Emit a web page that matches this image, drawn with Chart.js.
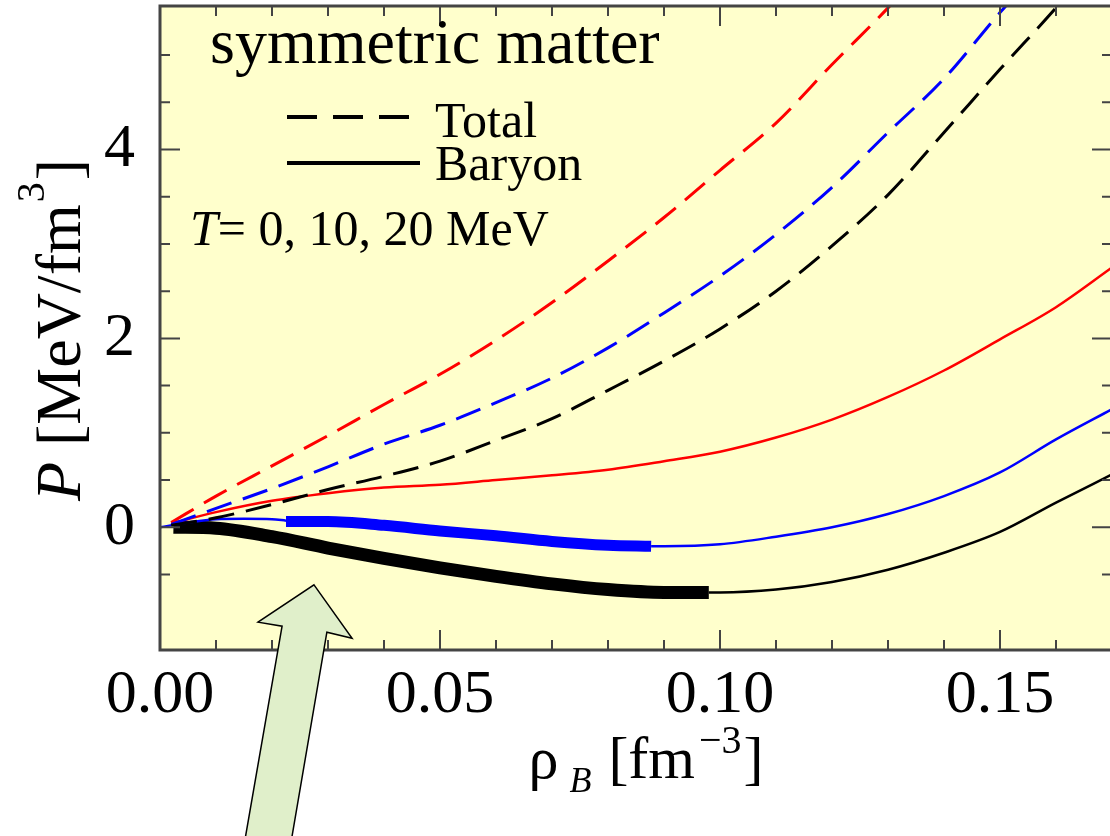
<!DOCTYPE html>
<html lang="en">
<head>
    <title>Symmetric matter pressure</title>
    <script src="https://cdn.jsdelivr.net/npm/chart.js"></script>
    <style>
        html, body { margin: 0; padding: 0; overflow: hidden; background: #fff; }
    </style>
</head>
<body>
    <canvas id="pChart" width="1114" height="836"></canvas>

    <script>
        // density grid (fm^-3)
        const rho = [0.002, 0.01, 0.02, 0.03, 0.04, 0.05, 0.06, 0.07, 0.08, 0.09,
                     0.10, 0.11, 0.12, 0.13, 0.14, 0.15, 0.16, 0.17];

        // total pressure (dashed), MeV/fm^3
        const totalT0  = [0.02, 0.10, 0.24, 0.40, 0.54, 0.70, 0.92, 1.15, 1.45, 1.76,
                          2.10, 2.50, 2.98, 3.52, 4.18, 4.85, 5.50, 6.20];
        const totalT10 = [0.03, 0.20, 0.41, 0.64, 0.88, 1.08, 1.32, 1.58, 1.90, 2.27,
                          2.66, 3.10, 3.60, 4.18, 4.75, 5.45, 6.10, null];
        const totalT20 = [0.05, 0.33, 0.65, 0.97, 1.30, 1.62, 1.98, 2.38, 2.82, 3.28,
                          3.78, 4.28, 4.90, 5.50, 6.15, null, null, null];

        // baryon pressure (solid)
        const baryonT20 = [0.04, 0.16, 0.28, 0.36, 0.42, 0.45, 0.50, 0.55, 0.61, 0.70,
                           0.80, 0.95, 1.14, 1.38, 1.66, 1.99, 2.33, 2.75];

        const rhoT10Low   = [0.0, 0.005, 0.01, 0.015, 0.02, 0.0225];
        const baryonT10Low = [0.0, 0.05, 0.085, 0.09, 0.085, 0.07];
        const rhoT10Unst   = [0.0225, 0.03, 0.04, 0.05, 0.06, 0.07, 0.08, 0.0877];
        const baryonT10Unst = [0.06, 0.06, 0.02, -0.04, -0.09, -0.15, -0.19, -0.20];
        const rhoT10High   = [0.0877, 0.09, 0.10, 0.11, 0.12, 0.13, 0.14, 0.15, 0.16, 0.17];
        const baryonT10High = [-0.20, -0.20, -0.18, -0.10, 0.0, 0.14, 0.33, 0.58, 0.93, 1.25];

        const rhoT0Unst   = [0.0024, 0.01, 0.02, 0.03, 0.04, 0.05, 0.06, 0.07, 0.08, 0.09, 0.098];
        const baryonT0Unst = [0.0, -0.01, -0.10, -0.22, -0.33, -0.43, -0.52, -0.60, -0.66, -0.69, -0.69];
        const rhoT0High   = [0.098, 0.10, 0.11, 0.12, 0.13, 0.14, 0.15, 0.16, 0.17];
        const baryonT0High = [-0.69, -0.69, -0.66, -0.58, -0.45, -0.27, -0.05, 0.26, 0.56];

        // axis ranges / ticks
        const xMin = 0, xMax = 0.17, xStep = 0.01, xLabelStep = 0.05;
        const yMin = -1.3, yMax = 5.52, yStep = 0.5, yLabelStep = 2;

        // arrow outline in data coordinates
        const arrowX = [0.0275, 0.0343, 0.0298, 0.0235, 0.0152, 0.0218, 0.0175];
        const arrowY = [-0.61, -1.175, -1.111, -3.30, -3.30, -1.048, -1.005];

        const SERIF = '"Liberation Serif", "DejaVu Serif", serif';

        function pts(xs, ys) {
            return xs.map((x, i) => ({ x: x, y: ys[i] }));
        }
        function isMult(v, step) {
            const r = v / step;
            return Math.abs(r - Math.round(r)) < 1e-6;
        }

        function line(data, color, width, dash) {
            return {
                data: data,
                borderColor: color,
                borderWidth: width,
                borderDash: dash || [],
                borderCapStyle: 'butt',
                pointRadius: 0,
                fill: false,
                cubicInterpolationMode: 'monotone',
                spanGaps: false
            };
        }

        // no extra label padding around the plot box
        function noPad(s) {
            s.paddingTop = 0; s.paddingBottom = 0;
            s.paddingLeft = 0; s.paddingRight = 0;
        }

        // background, frame, inside ticks, texts, arrow
        const decor = {
            id: 'decor',
            beforeDatasetsDraw(chart) {
                const { ctx, chartArea: a } = chart;
                ctx.save();
                ctx.fillStyle = '#ffffcc';
                ctx.fillRect(a.left, a.top, a.right - a.left, a.bottom - a.top);
                ctx.restore();
            },
            afterDatasetsDraw(chart) {
                const { ctx, chartArea: a, scales } = chart;
                const xs = scales.x, ys = scales.y;
                ctx.save();
                ctx.strokeStyle = '#444';
                ctx.lineWidth = 2;
                // x ticks bottom and top
                xs.ticks.forEach(t => {
                    const px = xs.getPixelForValue(t.value);
                    const len = isMult(t.value, xLabelStep) ? 20 : 10;
                    ctx.beginPath();
                    ctx.moveTo(px, a.bottom); ctx.lineTo(px, a.bottom - len);
                    ctx.moveTo(px, a.top); ctx.lineTo(px, a.top + len);
                    ctx.stroke();
                });
                ys.ticks.forEach(t => {
                    if (!isMult(t.value, yStep)) return;
                    const py = ys.getPixelForValue(t.value);
                    const len = isMult(t.value, yLabelStep) ? 20 : 10;
                    ctx.beginPath();
                    ctx.moveTo(a.left, py); ctx.lineTo(a.left + len, py);
                    ctx.moveTo(a.right, py); ctx.lineTo(a.right - len, py);
                    ctx.stroke();
                });
                ctx.lineWidth = 3;
                ctx.strokeRect(a.left, a.top, a.right - a.left, a.bottom - a.top);

                // in-plot text
                ctx.fillStyle = '#000';
                ctx.textBaseline = 'alphabetic';
                ctx.textAlign = 'left';
                ctx.font = '64px ' + SERIF;
                ctx.fillText('symmetric matter', 210, 63);

                ctx.strokeStyle = '#000';
                ctx.lineWidth = 4;
                ctx.setLineDash([30, 16]);
                ctx.beginPath(); ctx.moveTo(287, 117); ctx.lineTo(420, 117); ctx.stroke();
                ctx.setLineDash([]);
                ctx.beginPath(); ctx.moveTo(287, 163); ctx.lineTo(420, 163); ctx.stroke();
                ctx.font = '50px ' + SERIF;
                ctx.fillText('Total', 435, 137);
                ctx.fillText('Baryon', 435, 180);

                ctx.font = 'italic 50px ' + SERIF;
                ctx.fillText('T', 190, 245);
                let w = ctx.measureText('T').width;
                ctx.font = '50px ' + SERIF;
                ctx.fillText('= 0, 10, 20 MeV', 190 + w, 245);

                // y axis title
                ctx.save();
                ctx.translate(80, 330);
                ctx.rotate(-Math.PI / 2);
                const partsY = [
                    ['italic 64px ' + SERIF, 'P', 0, 0],
                    ['64px ' + SERIF, ' [MeV/fm', 0, 0],
                    ['40px ' + SERIF, '3', -36, 2],
                    ['64px ' + SERIF, ']', 0, 2]
                ];
                drawParts(ctx, partsY);
                ctx.restore();

                // x axis title
                ctx.save();
                ctx.translate(646, 778);
                const partsX = [
                    ['60px ' + SERIF, '\u03c1', 0, 0],
                    ['italic 36px ' + SERIF, 'B', 14, 11],
                    ['60px ' + SERIF, ' [fm', 0, 2],
                    ['40px ' + SERIF, '\u22123', -25, 4],
                    ['60px ' + SERIF, ']', 0, 2]
                ];
                drawParts(ctx, partsX);
                ctx.restore();

                // arrow
                ctx.beginPath();
                arrowX.forEach((x, i) => {
                    const px = xs.getPixelForValue(x), py = ys.getPixelForValue(arrowY[i]);
                    if (i === 0) ctx.moveTo(px, py); else ctx.lineTo(px, py);
                });
                ctx.closePath();
                ctx.fillStyle = '#e0efca';
                ctx.fill();
                ctx.lineWidth = 1.5;
                ctx.strokeStyle = '#000';
                ctx.stroke();
                ctx.restore();
            }
        };

        // draw text pieces [font, text, dy, gapBefore] centred on current origin
        function drawParts(ctx, parts) {
            let total = 0;
            parts.forEach(p => { ctx.font = p[0]; total += p[3] + ctx.measureText(p[1]).width; });
            let x = -total / 2;
            ctx.textAlign = 'left';
            ctx.textBaseline = 'alphabetic';
            parts.forEach(p => {
                ctx.font = p[0];
                x += p[3];
                ctx.fillText(p[1], x, p[2]);
                x += ctx.measureText(p[1]).width;
            });
        }

        const ctx = document.getElementById('pChart').getContext('2d');

        new Chart(ctx, {
            type: 'line',
            data: {
                datasets: [
                    line(pts(rho, totalT0), '#000000', 3, [26, 12]),
                    line(pts(rho, totalT10), '#0000ff', 3, [26, 12]),
                    line(pts(rho, totalT20), '#ff0000', 3, [26, 12]),
                    line(pts(rho, baryonT20), '#ff0000', 2.5),
                    line(pts(rhoT10Low, baryonT10Low), '#0000ff', 2.5),
                    line(pts(rhoT10Unst, baryonT10Unst), '#0000ff', 11),
                    line(pts(rhoT10High, baryonT10High), '#0000ff', 2.5),
                    line(pts(rhoT0Unst, baryonT0Unst), '#000000', 13),
                    line(pts(rhoT0High, baryonT0High), '#000000', 2.5)
                ]
            },
            options: {
                responsive: false,
                animation: false,
                events: [],
                layout: { padding: { left: 0, top: 6, right: 2, bottom: 0 } },
                plugins: { legend: { display: false }, tooltip: { enabled: false } },
                scales: {
                    x: {
                        type: 'linear',
                        min: xMin, max: xMax,
                        afterFit: s => { s.height = 186; noPad(s); },
                        grid: { display: false, drawTicks: false },
                        border: { display: false },
                        ticks: {
                            stepSize: xStep,
                            autoSkip: false,
                            maxRotation: 0,
                            padding: 9,
                            color: '#000',
                            font: { family: SERIF, size: 62 },
                            callback: v => isMult(v, xLabelStep) ? v.toFixed(2) : ''
                        }
                    },
                    y: {
                        type: 'linear',
                        min: yMin, max: yMax,
                        afterFit: s => { s.width = 160; noPad(s); },
                        grid: { display: false, drawTicks: false },
                        border: { display: false },
                        ticks: {
                            stepSize: yStep,
                            autoSkip: false,
                            padding: 25,
                            color: '#000',
                            font: { family: SERIF, size: 62 },
                            callback: v => isMult(v, yLabelStep) ? String(Math.round(v)) : ''
                        }
                    }
                }
            },
            plugins: [decor]
        });
    </script>
</body>
</html>
